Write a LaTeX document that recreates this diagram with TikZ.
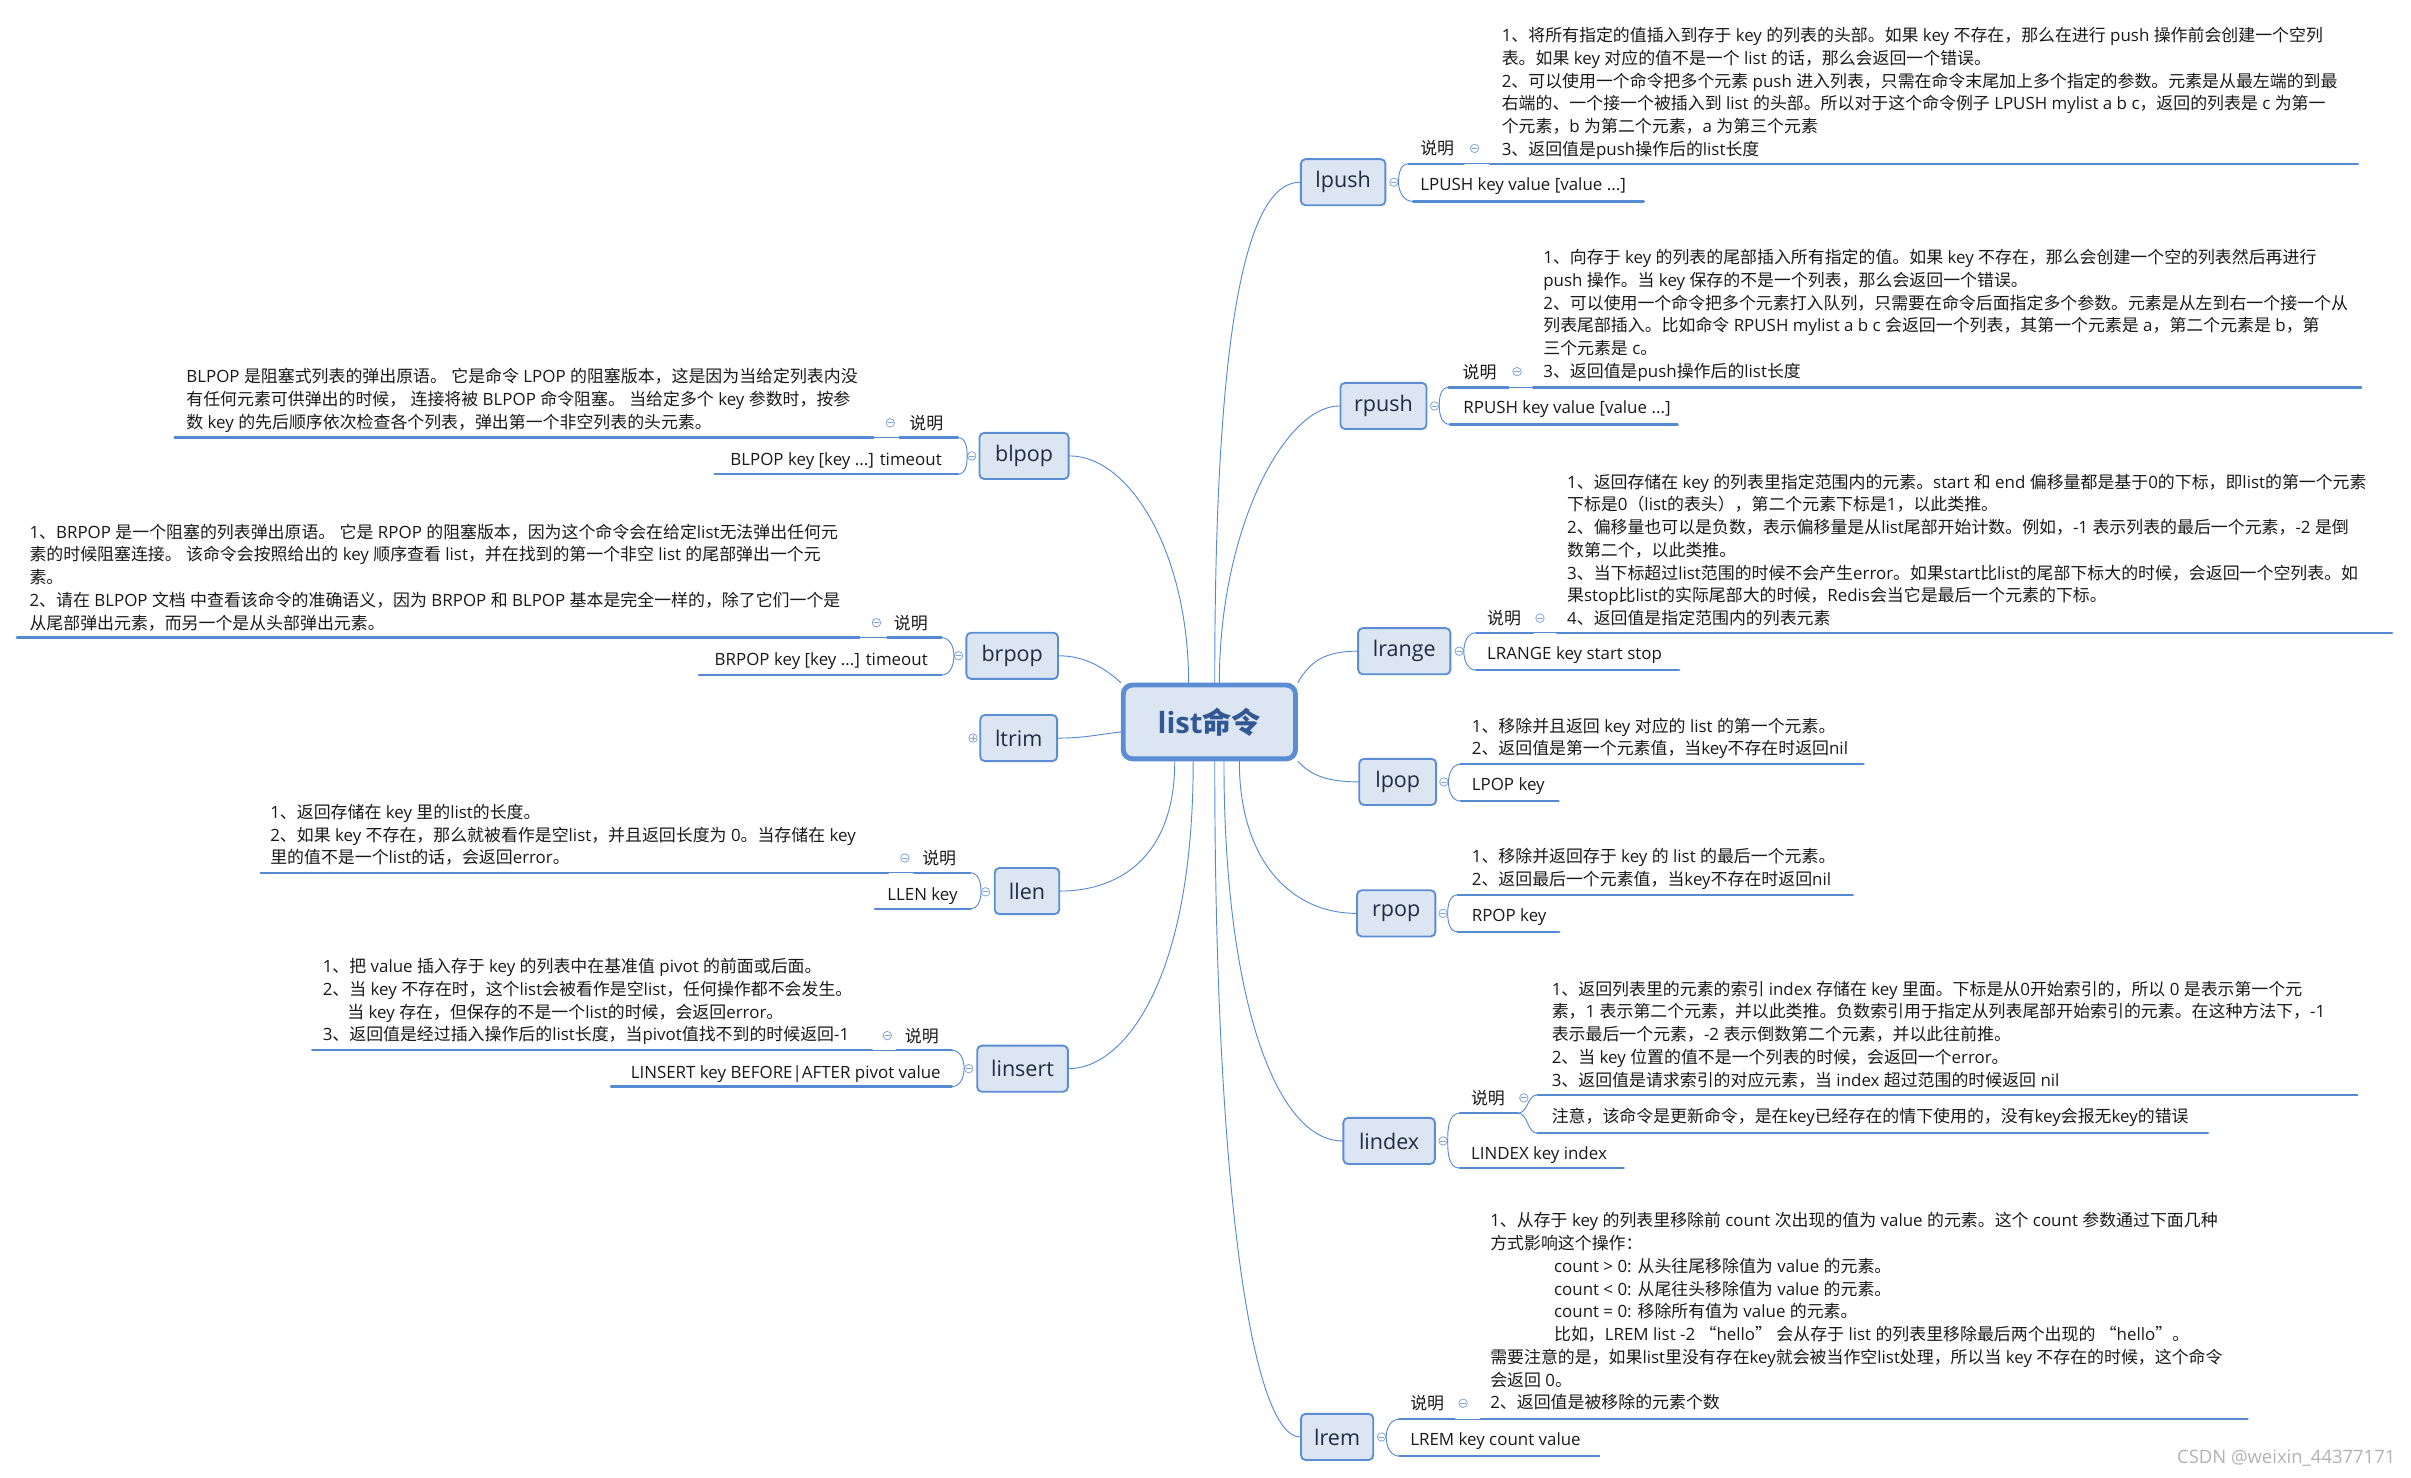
\documentclass[tikz,border=0pt]{standalone}
\usepackage{fontspec}
\setmainfont{Open Sans}
\newfontfamily\cjkfont{Noto Sans CJK SC}
\newXeTeXintercharclass\cjkclass
\newcount\cjkcnt
\def\setcjkrange#1#2{\cjkcnt=#1\relax\loop\XeTeXcharclass\cjkcnt=\cjkclass\relax\ifnum\cjkcnt<#2\relax\advance\cjkcnt by 1\repeat}
\setcjkrange{"3000}{"303F}
\setcjkrange{"4E00}{"9FFF}
\setcjkrange{"FF00}{"FFEF}
\XeTeXcharclass"201C=\cjkclass
\XeTeXcharclass"201D=\cjkclass
\XeTeXinterchartokenstate=1
\XeTeXinterchartoks 0 \cjkclass={\cjkfont}
\XeTeXinterchartoks 4095 \cjkclass={\cjkfont}
\XeTeXinterchartoks \cjkclass 0={\rmfamily}
\XeTeXinterchartoks \cjkclass 4095={\rmfamily}
\definecolor{lineblue}{RGB}{85,138,210}
\definecolor{boxblue}{RGB}{91,141,212}
\definecolor{boxfill}{RGB}{220,230,242}
\definecolor{labeltext}{RGB}{32,44,66}
\definecolor{roottext}{RGB}{50,88,148}
\definecolor{foldblue}{RGB}{125,163,216}
\definecolor{desctext}{RGB}{25,25,25}
\begin{document}
\begin{tikzpicture}[x=1pt, y=1pt, font=\fontsize{11}{14.8}\selectfont, line cap=round,
  root/.style={draw=boxblue, fill=boxfill, line width=3.2pt, rounded corners=6pt, minimum width=112pt, minimum height=48pt, inner sep=0pt, text=roottext, font=\fontsize{19}{22}\selectfont\bfseries},
  topic/.style={draw=boxblue, fill=boxfill, line width=1.2pt, rounded corners=3pt, minimum height=30pt, inner sep=0pt, text=labeltext, font=\fontsize{14}{16}\selectfont},
  fold/.style={circle, draw=foldblue, fill=white, line width=0.5pt, minimum size=5.5pt, inner sep=0pt,
    path picture={\draw[foldblue, line width=0.5pt] ([xshift=-1.6pt]path picture bounding box.center) -- ([xshift=1.6pt]path picture bounding box.center);}},
  foldplus/.style={fold,
    path picture={\draw[foldblue, line width=0.5pt] ([xshift=-1.6pt]path picture bounding box.center) -- ([xshift=1.6pt]path picture bounding box.center)
      ([yshift=-1.6pt]path picture bounding box.center) -- ([yshift=1.6pt]path picture bounding box.center);}},
  txt/.style={anchor=base west, inner sep=0pt, align=left, text=desctext},
  txtr/.style={anchor=base east, inner sep=0pt, align=left, text=desctext},
  bar/.style={draw=lineblue, line width=1.6pt},
  link/.style={draw=lineblue, line width=0.6pt}]
  \useasboundingbox (0,0) rectangle (1568,-961);

  \node[root] (root) at (786.5,-469.5) {list命令};

  \node[topic, minimum width=55pt] (lpush) at (873.5,-118.5) {lpush};
  \node[fold] (lpushfold) at (906.5,-118.5) {};
  \coordinate (lpushup) at (916,-106.5);
  \coordinate (lpushlow) at (919,-131);
  \coordinate (lpushsmend) at (952,-106.5);
  \coordinate (lpushdescst) at (969,-106.5);
  \node[txt] (lpushsm) at (923.5,-100.7) {说明};
  \node[fold] (lpushsmfold) at (959,-96.5) {};
  \node[txt] (lpushcmd) at (923.5,-124.1) {LPUSH key value [value ...]};
  \node[txt] (lpushdesc) at (976.5,-101) {1、将所有指定的值插入到存于 key 的列表的头部。如果 key 不存在，那么在进行 push 操作前会创建一个空列\\
表。如果 key 对应的值不是一个 list 的话，那么会返回一个错误。\\
2、可以使用一个命令把多个元素 push 进入列表，只需在命令末尾加上多个指定的参数。元素是从最左端的到最\\
右端的、一个接一个被插入到 list 的头部。所以对于这个命令例子 LPUSH mylist a b c，返回的列表是 c 为第一\\
个元素，b 为第二个元素，a 为第三个元素\\
3、返回值是push操作后的list长度};
  \draw[link] (lpushfold.east) to[out=90, in=180] (lpushup);
  \draw[link] (lpushfold.east) to[out=-90, in=180] (lpushlow);
  \draw[bar] (lpushup) -- (lpushsmend);
  \draw[link] (lpushsmend) -- (lpushdescst);
  \draw[bar] (lpushdescst) -- (1533.5,-106.5);
  \draw[bar] (lpushlow) -- (1069,-131);

  \node[topic, minimum width=56pt] (rpush) at (899.75,-264) {rpush};
  \node[fold] (rpushfold) at (933,-264) {};
  \coordinate (rpushup) at (942,-252);
  \coordinate (rpushlow) at (943,-276);
  \coordinate (rpushsmend) at (981,-252);
  \coordinate (rpushdescst) at (997,-252);
  \node[txt] (rpushsm) at (951,-245.9) {说明};
  \node[fold] (rpushsmfold) at (986.6,-241.7) {};
  \node[txt] (rpushcmd) at (951.5,-269.2) {RPUSH key value [value ...]};
  \node[txt] (rpushdesc) at (1003.5,-245.5) {1、向存于 key 的列表的尾部插入所有指定的值。如果 key 不存在，那么会创建一个空的列表然后再进行\\
push 操作。当 key 保存的不是一个列表，那么会返回一个错误。\\
2、可以使用一个命令把多个元素打入队列，只需要在命令后面指定多个参数。元素是从左到右一个接一个从\\
列表尾部插入。比如命令 RPUSH mylist a b c 会返回一个列表，其第一个元素是 a，第二个元素是 b，第\\
三个元素是 c。\\
3、返回值是push操作后的list长度};
  \draw[link] (rpushfold.east) to[out=90, in=180] (rpushup);
  \draw[link] (rpushfold.east) to[out=-90, in=180] (rpushlow);
  \draw[bar] (rpushup) -- (rpushsmend);
  \draw[link] (rpushsmend) -- (rpushdescst);
  \draw[bar] (rpushdescst) -- (1535.6,-252);
  \draw[bar] (rpushlow) -- (1091,-276);

  \node[topic, minimum width=60pt] (lrange) at (913.25,-423.5) {lrange};
  \node[fold] (lrangefold) at (949,-423.5) {};
  \coordinate (lrangeup) at (960,-411.5);
  \coordinate (lrangelow) at (960,-435.8);
  \coordinate (lrangesmend) at (997,-411.5);
  \coordinate (lrangedescst) at (1012.6,-411.5);
  \node[txt] (lrangesm) at (967,-406.3) {说明};
  \node[fold] (lrangesmfold) at (1001.5,-402) {};
  \node[txt] (lrangecmd) at (967,-429.2) {LRANGE key start stop};
  \node[txt] (lrangedesc) at (1019,-406.3) {1、返回存储在 key 的列表里指定范围内的元素。start 和 end 偏移量都是基于0的下标，即list的第一个元素\\
下标是0（list的表头），第二个元素下标是1，以此类推。\\
2、偏移量也可以是负数，表示偏移量是从list尾部开始计数。例如，-1 表示列表的最后一个元素，-2 是倒\\
数第二个，以此类推。\\
3、当下标超过list范围的时候不会产生error。如果start比list的尾部下标大的时候，会返回一个空列表。如\\
果stop比list的实际尾部大的时候，Redis会当它是最后一个元素的下标。\\
4、返回值是指定范围内的列表元素};
  \draw[link] (lrangefold.east) to[out=90, in=180] (lrangeup);
  \draw[link] (lrangefold.east) to[out=-90, in=180] (lrangelow);
  \draw[bar] (lrangeup) -- (lrangesmend);
  \draw[link] (lrangesmend) -- (lrangedescst);
  \draw[bar] (lrangedescst) -- (1555.7,-411.5);
  \draw[bar] (lrangelow) -- (1092,-435.8);

  \node[topic, minimum width=50pt] (lpop) at (909,-508.5) {lpop};
  \node[fold] (lpopfold) at (939,-508.5) {};
  \coordinate (lpopup) at (950,-497);
  \coordinate (lpoplow) at (950,-521);
  \node[txt] (lpopcmd) at (957,-514.3) {LPOP key};
  \node[txt] (lpopdesc) at (957,-491) {1、移除并且返回 key 对应的 list 的第一个元素。\\
2、返回值是第一个元素值，当key不存在时返回nil};
  \draw[link] (lpopfold.east) to[out=90, in=180] (lpopup);
  \draw[link] (lpopfold.east) to[out=-90, in=180] (lpoplow);
  \draw[bar] (lpopup) -- (1212,-497);
  \draw[bar] (lpoplow) -- (1013.6,-521);

  \node[topic, minimum width=51pt] (rpop) at (908,-594) {rpop};
  \node[fold] (rpopfold) at (938.5,-594) {};
  \coordinate (rpopup) at (948,-582);
  \coordinate (rpoplow) at (948,-606);
  \node[txt] (rpopcmd) at (957,-599.5) {RPOP key};
  \node[txt] (rpopdesc) at (957,-576) {1、移除并返回存于 key 的 list 的最后一个元素。\\
2、返回最后一个元素值，当key不存在时返回nil};
  \draw[link] (rpopfold.east) to[out=90, in=180] (rpopup);
  \draw[link] (rpopfold.east) to[out=-90, in=180] (rpoplow);
  \draw[bar] (rpopup) -- (1205,-582);
  \draw[bar] (rpoplow) -- (1014,-606);

  \node[topic, minimum width=59.5pt] (lindex) at (903.4,-742) {lindex};
  \node[fold] (lindexfold) at (938.5,-742) {};
  \coordinate (lindexup) at (949.5,-724);
  \coordinate (lindexlow) at (949.5,-759.7);
  \coordinate (lindexsmend) at (987,-724);
  \coordinate (lindexdescst) at (1000,-712);
  \coordinate (lindexnotest) at (1000,-737);
  \node[txt] (lindexsm) at (956.5,-718.2) {说明};
  \node[fold] (lindexsmfold) at (991,-714) {};
  \node[txt] (lindexcmd) at (956.5,-753.8) {LINDEX key index};
  \node[txt] (lindexdesc) at (1009,-706.4) {1、返回列表里的元素的索引 index 存储在 key 里面。下标是从0开始索引的，所以 0 是表示第一个元\\
素，1 表示第二个元素，并以此类推。负数索引用于指定从列表尾部开始索引的元素。在这种方法下，-1\\
表示最后一个元素，-2 表示倒数第二个元素，并以此往前推。\\
2、当 key 位置的值不是一个列表的时候，会返回一个error。\\
3、返回值是请求索引的对应元素，当 index 超过范围的时候返回 nil};
  \node[txt] (lindexnote) at (1009,-730.2) {注意，该命令是更新命令，是在key已经存在的情下使用的，没有key会报无key的错误};
  \draw[link] (lindexfold.east) to[out=90, in=180] (lindexup);
  \draw[link] (lindexfold.east) to[out=-90, in=180] (lindexlow);
  \draw[bar] (lindexup) -- (lindexsmend);
  \draw[link] (lindexsmend) to[out=0, in=180] (lindexdescst);
  \draw[link] (lindexsmend) to[out=0, in=180] (lindexnotest);
  \draw[bar] (lindexdescst) -- (1533,-712);
  \draw[bar] (lindexnotest) -- (1436,-737);
  \draw[bar] (lindexlow) -- (1056,-759.7);

  \node[topic, minimum width=47pt] (lrem) at (869.6,-934.5) {lrem};
  \node[fold] (lremfold) at (898.5,-934.5) {};
  \coordinate (lremup) at (910,-923);
  \coordinate (lremlow) at (910,-947);
  \coordinate (lremsmend) at (946,-923);
  \coordinate (lremdescst) at (963,-923);
  \node[txt] (lremsm) at (917,-916.8) {说明};
  \node[fold] (lremsmfold) at (951.5,-912.6) {};
  \node[txt] (lremcmd) at (917,-940.3) {LREM key count value};
  \node[txt] (lremdesc) at (969,-916.3) {1、从存于 key 的列表里移除前 count 次出现的值为 value 的元素。这个 count 参数通过下面几种\\
方式影响这个操作：\\
\hspace*{41.5pt}count > 0: 从头往尾移除值为 value 的元素。\\
\hspace*{41.5pt}count < 0: 从尾往头移除值为 value 的元素。\\
\hspace*{41.5pt}count = 0: 移除所有值为 value 的元素。\\
\hspace*{41.5pt}比如，LREM list -2 “hello” 会从存于 list 的列表里移除最后两个出现的 “hello”。\\
需要注意的是，如果list里没有存在key就会被当作空list处理，所以当 key 不存在的时候，这个命令\\
会返回 0。\\
2、返回值是被移除的元素个数};
  \draw[link] (lremfold.east) to[out=90, in=180] (lremup);
  \draw[link] (lremfold.east) to[out=-90, in=180] (lremlow);
  \draw[bar] (lremup) -- (lremsmend);
  \draw[link] (lremsmend) -- (lremdescst);
  \draw[bar] (lremdescst) -- (1461.7,-923);
  \draw[bar] (lremlow) -- (1040,-947);

  \node[topic, minimum width=58pt] (blpop) at (666,-296.5) {blpop};
  \node[fold] (blpopfold) at (632,-296.5) {};
  \coordinate (blpopup) at (623,-284.6);
  \coordinate (blpoplow) at (623,-308.4);
  \coordinate (blpopsmend) at (585,-284.6);
  \coordinate (blpopdescst) at (568,-284.6);
  \node[txtr] (blpopsm) at (613.6,-279.2) {说明};
  \node[fold] (blpopsmfold) at (579,-275) {};
  \node[txtr] (blpopcmd) at (612.7,-302.8) {BLPOP key [key ...] timeout};
  \node[txt] (blpopdesc) at (121,-278.6) {BLPOP 是阻塞式列表的弹出原语。 它是命令 LPOP 的阻塞版本，这是因为当给定列表内没\\
有任何元素可供弹出的时候， 连接将被 BLPOP 命令阻塞。 当给定多个 key 参数时，按参\\
数 key 的先后顺序依次检查各个列表，弹出第一个非空列表的头元素。};
  \draw[link] (blpopfold.west) to[out=90, in=0] (blpopup);
  \draw[link] (blpopfold.west) to[out=-90, in=0] (blpoplow);
  \draw[bar] (blpopup) -- (blpopsmend);
  \draw[link] (blpopsmend) -- (blpopdescst);
  \draw[bar] (blpopdescst) -- (113.6,-284.6);
  \draw[bar] (blpoplow) -- (464.8,-308.4);

  \node[topic, minimum width=59.6pt] (brpop) at (658.3,-426.5) {brpop};
  \node[fold] (brpopfold) at (623.4,-426.5) {};
  \coordinate (brpopup) at (612.3,-414.7);
  \coordinate (brpoplow) at (612.3,-439);
  \coordinate (brpopsmend) at (577,-414.7);
  \coordinate (brpopdescst) at (559,-414.7);
  \node[txtr] (brpopsm) at (603.6,-409.2) {说明};
  \node[fold] (brpopsmfold) at (570,-405) {};
  \node[txtr] (brpopcmd) at (603.6,-433) {BRPOP key [key ...] timeout};
  \node[txt] (brpopdesc) at (19,-409.2) {1、BRPOP 是一个阻塞的列表弹出原语。 它是 RPOP 的阻塞版本，因为这个命令会在给定list无法弹出任何元\\
素的时候阻塞连接。 该命令会按照给出的 key 顺序查看 list，并在找到的第一个非空 list 的尾部弹出一个元\\
素。\\
2、请在 BLPOP 文档 中查看该命令的准确语义，因为 BRPOP 和 BLPOP 基本是完全一样的，除了它们一个是\\
从尾部弹出元素，而另一个是从头部弹出元素。};
  \draw[link] (brpopfold.west) to[out=90, in=0] (brpopup);
  \draw[link] (brpopfold.west) to[out=-90, in=0] (brpoplow);
  \draw[bar] (brpopup) -- (brpopsmend);
  \draw[link] (brpopsmend) -- (brpopdescst);
  \draw[bar] (brpopdescst) -- (11,-414.7);
  \draw[bar] (brpoplow) -- (454.6,-439);

  \node[topic, minimum width=50pt] (ltrim) at (662.5,-480) {ltrim};
  \node[foldplus] (ltrimfold) at (632.8,-480) {};

  \node[topic, minimum width=42pt] (llen) at (667.9,-579.5) {llen};
  \node[fold] (llenfold) at (641,-580) {};
  \coordinate (llenup) at (631,-567.6);
  \coordinate (llenlow) at (631,-591);
  \coordinate (llensmend) at (594.5,-567.6);
  \coordinate (llendescst) at (577.5,-567.6);
  \node[txtr] (llensm) at (622,-562.2) {说明};
  \node[fold] (llensmfold) at (588.5,-558) {};
  \node[txtr] (llencmd) at (623,-585.8) {LLEN key};
  \node[txt] (llendesc) at (175.6,-561.8) {1、返回存储在 key 里的list的长度。\\
2、如果 key 不存在，那么就被看作是空list，并且返回长度为 0。当存储在 key\\
里的值不是一个list的话，会返回error。};
  \draw[link] (llenfold.west) to[out=90, in=0] (llenup);
  \draw[link] (llenfold.west) to[out=-90, in=0] (llenlow);
  \draw[bar] (llenup) -- (llensmend);
  \draw[link] (llensmend) -- (llendescst);
  \draw[bar] (llendescst) -- (169.5,-567.6);
  \draw[bar] (llenlow) -- (569,-591);

  \node[topic, minimum width=59pt] (linsert) at (665,-695) {linsert};
  \node[fold] (linsertfold) at (630,-695) {};
  \coordinate (linsertup) at (619,-683);
  \coordinate (linsertlow) at (619,-706.7);
  \coordinate (linsertsmend) at (583,-683);
  \coordinate (linsertdescst) at (567,-683);
  \node[txtr] (linsertsm) at (610.7,-678) {说明};
  \node[fold] (linsertsmfold) at (577,-673.5) {};
  \node[txtr] (linsertcmd) at (612,-701.4) {LINSERT key BEFORE|AFTER pivot value};
  \node[txt] (linsertdesc) at (209.7,-677) {1、把 value 插入存于 key 的列表中在基准值 pivot 的前面或后面。\\
2、当 key 不存在时，这个list会被看作是空list，任何操作都不会发生。\\
\hspace*{16pt}当 key 存在，但保存的不是一个list的时候，会返回error。\\
3、返回值是经过插入操作后的list长度，当pivot值找不到的时候返回-1};
  \draw[link] (linsertfold.west) to[out=90, in=0] (linsertup);
  \draw[link] (linsertfold.west) to[out=-90, in=0] (linsertlow);
  \draw[bar] (linsertup) -- (linsertsmend);
  \draw[link] (linsertsmend) -- (linsertdescst);
  \draw[bar] (linsertdescst) -- (203,-683);
  \draw[bar] (linsertlow) -- (397.4,-706.7);

  \draw[link] ([xshift=3.5pt]root.north) .. controls (790,-245) and (805,-118.5) .. (lpush.west);
  \draw[link] ([xshift=6.5pt]root.north) .. controls (793,-345) and (835,-264) .. (rpush.west);
  \draw[link] ([xshift=-13.5pt]root.north) .. controls (773,-360) and (735,-296.5) .. (blpop.east);
  \draw[link] (root.north west) .. controls (718,-434) and (705,-426.5) .. (brpop.east);
  \draw[link] ([yshift=-6.5pt]root.west) .. controls (712,-478) and (705,-480) .. (ltrim.east);
  \draw[link] (root.north east) .. controls (852,-430) and (862,-423.5) .. (lrange.west);
  \draw[link] (root.south east) .. controls (853,-505) and (865,-508.5) .. (lpop.west);
  \draw[link] ([xshift=19.5pt]root.south) .. controls (806,-560) and (840,-594) .. (rpop.west);
  \draw[link] ([xshift=9.5pt]root.south) .. controls (796,-650) and (830,-742) .. (lindex.west);
  \draw[link] ([xshift=3.5pt]root.south) .. controls (790,-780) and (815,-934.5) .. (lrem.west);
  \draw[link] ([xshift=-22.5pt]root.south) .. controls (764,-560) and (725,-579.5) .. (llen.east);
  \draw[link] ([xshift=-10.5pt]root.south) .. controls (776,-640) and (730,-695) .. (linsert.east);

  \node[anchor=east, inner sep=0pt, text=gray!60, font=\fontsize{12}{14}\selectfont] (mark) at (1558,-948) {CSDN @weixin\_44377171};
\end{tikzpicture}
\end{document}
